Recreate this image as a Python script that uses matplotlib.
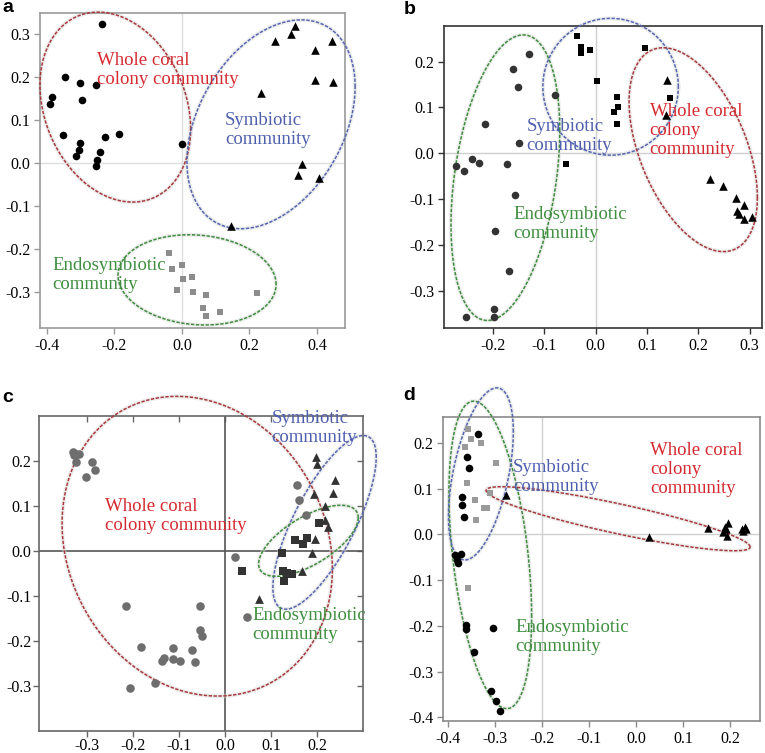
import numpy as np
import matplotlib
matplotlib.use("Agg")
import matplotlib.pyplot as plt

plt.rcParams['font.family'] = ['Liberation Serif', 'DejaVu Serif']
plt.rcParams['axes.unicode_minus'] = False

# ---------------- Panel a ----------------
a_circ_x = [-0.235, -0.345, -0.301, -0.254, -0.385, -0.391, -0.296, -0.352, -0.302, -0.306,
            -0.312, -0.229, -0.186, -0.242, -0.252, -0.254, 0.001]
a_circ_y = [0.323, 0.199, 0.186, 0.182, 0.153, 0.137, 0.147, 0.064, 0.046, 0.030,
            0.016, 0.060, 0.068, 0.025, 0.006, -0.006, 0.044]
a_tri_x = [0.335, 0.323, 0.275, 0.444, 0.394, 0.395, 0.448, 0.233, 0.356, 0.345, 0.406, 0.145]
a_tri_y = [0.319, 0.299, 0.283, 0.285, 0.264, 0.192, 0.188, 0.162, -0.002, -0.029, -0.036, -0.146]
a_sq_x = [-0.039, -0.028, 0.001, 0.004, 0.031, -0.013, 0.034, 0.070, 0.223, 0.062, 0.071, 0.113]
a_sq_y = [-0.209, -0.246, -0.237, -0.271, -0.266, -0.295, -0.300, -0.308, -0.302, -0.338, -0.357, -0.347]

# ---------------- Panel b ----------------
b_circ_x = [-0.272, -0.256, -0.241, -0.227, -0.216, -0.172, -0.161, -0.151, -0.129, -0.150,
            -0.157, -0.079, -0.196, -0.168, -0.198, -0.198, -0.253]
b_circ_y = [-0.027, -0.039, -0.013, -0.020, 0.065, -0.023, 0.183, 0.145, 0.217, 0.022,
            -0.090, 0.128, -0.169, -0.256, -0.339, -0.356, -0.357]
b_sq_x = [-0.036, -0.029, -0.029, -0.011, 0.003, 0.097, 0.041, 0.044, 0.036, 0.042, 0.145, -0.058]
b_sq_y = [0.256, 0.232, 0.218, 0.224, 0.158, 0.230, 0.123, 0.100, 0.091, 0.064, 0.120, -0.023]
b_tri_x = [0.139, 0.136, 0.223, 0.248, 0.273, 0.288, 0.276, 0.280, 0.288, 0.304]
b_tri_y = [0.160, 0.083, -0.055, -0.071, -0.097, -0.113, -0.126, -0.133, -0.143, -0.138]

# ---------------- Panel c ----------------
c_circ_x = [-0.329, -0.323, -0.328, -0.317, -0.323, -0.288, -0.281, -0.302, 0.157, 0.161,
            0.175, 0.022, 0.048, -0.215, -0.054, -0.054, -0.050, -0.182, -0.113, -0.071,
            -0.132, -0.137, -0.113, -0.098, -0.065, -0.206, -0.152]
c_circ_y = [0.220, 0.216, 0.212, 0.214, 0.197, 0.197, 0.180, 0.164, 0.147, 0.112,
            0.079, -0.014, -0.147, -0.123, -0.123, -0.177, -0.189, -0.214, -0.217, -0.220,
            -0.238, -0.246, -0.241, -0.245, -0.247, -0.306, -0.294]
c_sq_x = [0.205, 0.152, 0.169, 0.177, 0.124, 0.036, 0.126, 0.134, 0.145, 0.128]
c_sq_y = [0.062, 0.023, 0.016, 0.029, -0.006, -0.045, -0.046, -0.049, -0.052, -0.068]
c_tri_x = [0.197, 0.199, 0.239, 0.235, 0.193, 0.218, 0.218, 0.224, 0.195, 0.189, 0.167, 0.074]
c_tri_y = [0.208, 0.192, 0.157, 0.128, 0.127, 0.100, 0.069, 0.053, 0.027, -0.004, -0.044, -0.108]

# ---------------- Panel d ----------------
d_circ_x = [-0.337, -0.359, -0.355, -0.371, -0.370, -0.367, -0.385, -0.372, -0.380, -0.379,
            -0.362, -0.362, -0.304, -0.344, -0.309, -0.298, -0.289]
d_circ_y = [0.219, 0.168, 0.144, 0.082, 0.065, 0.038, -0.045, -0.043, -0.056, -0.063,
            -0.198, -0.207, -0.204, -0.258, -0.342, -0.365, -0.386]
d_sq_x = [-0.358, -0.352, -0.330, -0.364, -0.298, -0.360, -0.343, -0.323, -0.318, -0.341, -0.311, -0.357]
d_sq_y = [0.230, 0.208, 0.199, 0.190, 0.156, 0.113, 0.075, 0.057, 0.057, 0.031, 0.091, -0.117]
d_tri_x = [-0.277, 0.027, 0.154, 0.196, 0.191, 0.186, 0.193, 0.225, 0.232, 0.235, 0.227, 0.189]
d_tri_y = [0.085, -0.005, 0.013, 0.024, 0.011, 0.004, -0.003, 0.012, 0.015, 0.011, 0.008, 0.017]

# Ellipses: (cx, cy, rx, ry, rho)
a_ell = {'red': (-0.197, 0.130, 0.223, 0.221, -0.23),
         'blue': (0.264, 0.090, 0.249, 0.243, 0.36),
         'green': (0.045, -0.272, 0.234, 0.105, -0.10)}
b_ell = {'green': (-0.176, -0.053, 0.106, 0.311, 0.33),
         'blue': (0.029, 0.145, 0.132, 0.149, 0.0),
         'red': (0.190, 0.008, 0.125, 0.222, -0.47)}
c_ell = {'red': (-0.060, 0.010, 0.293, 0.333, -0.15),
         'blue': (0.216, 0.063, 0.112, 0.193, 0.75),
         'green': (0.181, 0.022, 0.108, 0.079, 0.65)}
d_ell = {'green': (-0.310, -0.045, 0.088, 0.336, -0.40),
         'blue': (-0.330, 0.132, 0.069, 0.188, 0.49),
         'red': (-0.038, 0.034, 0.281, 0.070, -0.88)}

lbl_whole2 = "Whole coral\ncolony community"
lbl_whole3 = "Whole coral\ncolony\ncommunity"
lbl_sym = "Symbiotic\ncommunity"
lbl_endo = "Endosymbiotic\ncommunity"

ELL_COL = {'red': '#a8383c', 'blue': '#5666b0', 'green': '#3d8c3d'}
TXT_COL = {'red': '#d42a30', 'blue': '#4f5fae', 'green': '#3f8f3f'}
SERIF = ['Liberation Serif', 'DejaVu Serif']

fig = plt.figure(figsize=(7.65, 7.53), dpi=100)
W, H = 765, 753


def add_ax(l, r, t, b):
    return fig.add_axes([l / W, 1 - b / H, (r - l) / W, (b - t) / H])


def ellipse(ax, p, col):
    cx, cy, rx, ry, rho = p
    t = np.linspace(0, 2 * np.pi, 400)
    x = cx + rx * np.cos(t)
    y = cy + ry * (rho * np.cos(t) + np.sqrt(1 - rho ** 2) * np.sin(t))
    ax.plot(x, y, color='#dddddd', lw=3.0, alpha=0.5, clip_on=False, zorder=2)
    ax.plot(x, y, color=ELL_COL[col], lw=1.1, ls=(0, (2.2, 1.0)), clip_on=False, zorder=3)


def style(ax, xlim, ylim, xt, yt, frame, zero_col, zero_lw=1.0, vline=0.0, pad=3):
    ax.set_xlim(*xlim)
    ax.set_ylim(*ylim)
    ax.set_xticks(xt)
    ax.set_yticks(yt)
    ax.set_xticklabels([f"{v:.1f}" for v in xt], fontfamily=SERIF)
    ax.set_yticklabels([f"{v:.1f}" for v in yt], fontfamily=SERIF)
    for s in ax.spines.values():
        s.set_color(frame)
        s.set_linewidth(1.2)
    ax.tick_params(labelsize=11.5, length=4, width=1, color=frame, pad=pad)
    ax.axhline(0, color=zero_col, lw=zero_lw, zorder=1)
    ax.axvline(vline, color=zero_col, lw=zero_lw, zorder=1)


def pts(ax, x, y, marker, col, s):
    ax.scatter(x, y, marker=marker, c=col, s=s, linewidths=0, zorder=4)


def txt(ax, x, y, s, col):
    ax.text(x, y, s, color=TXT_COL[col], fontsize=13.5, ha='left', va='center',
            linespacing=1.15, zorder=5, fontfamily=SERIF)


def label(x, y, s):
    fig.text(x / W, 1 - y / H, s, fontsize=14, fontweight='bold',
             fontfamily=['Liberation Sans', 'DejaVu Sans'], va='center')


# ---------- a ----------
ax = add_ax(40, 345, 13, 328)
style(ax, (-0.42, 0.483), (-0.384, 0.349), [-0.4, -0.2, 0.0, 0.2, 0.4],
      [-0.3, -0.2, -0.1, 0.0, 0.1, 0.2, 0.3], '#9a9a9a', '#dedede')
pts(ax, a_circ_x, a_circ_y, 'o', 'black', 30)
pts(ax, a_tri_x, a_tri_y, '^', 'black', 38)
pts(ax, a_sq_x, a_sq_y, 's', '#8c8c8c', 24)
for k, p in a_ell.items():
    ellipse(ax, p, k)
txt(ax, -0.252, 0.217, lbl_whole2, 'red')
txt(ax, 0.127, 0.076, lbl_sym, 'blue')
txt(ax, -0.383, -0.260, lbl_endo, 'green')
label(2, 8, 'a')

# ---------- b ----------
ax = add_ax(444.3, 762, 25.7, 328.3)
style(ax, (-0.295, 0.324), (-0.381, 0.278), [-0.2, -0.1, 0.0, 0.1, 0.2, 0.3],
      [-0.3, -0.2, -0.1, 0.0, 0.1, 0.2], '#333333', '#cfcfcf')
pts(ax, b_circ_x, b_circ_y, 'o', '#333333', 30)
pts(ax, b_sq_x, b_sq_y, 's', 'black', 24)
pts(ax, b_tri_x, b_tri_y, '^', 'black', 38)
for k, p in b_ell.items():
    ellipse(ax, p, k)
txt(ax, -0.135, 0.038, lbl_sym, 'blue')
txt(ax, 0.105, 0.049, lbl_whole3, 'red')
txt(ax, -0.161, -0.153, lbl_endo, 'green')
label(404, 10, 'b')

# ---------- c ----------
ax = add_ax(39, 363.3, 415.7, 730.7)
c_xt = [-0.3, -0.2, -0.1, 0.0, 0.1, 0.2]
c_yt = [-0.3, -0.2, -0.1, 0.0, 0.1, 0.2]
style(ax, (-0.403, 0.300), (-0.400, 0.300), c_xt, c_yt, '#666666', '#555555',
      zero_lw=1.2, pad=1.5)
secx = ax.secondary_xaxis('top')
secx.set_xticks(c_xt)
secx.tick_params(direction='in', length=4, width=1, color='#666666', labeltop=False)
secy = ax.secondary_yaxis('right')
secy.set_yticks(c_yt)
secy.tick_params(direction='in', length=4, width=1, color='#666666', labelright=False)
for s in list(secx.spines.values()) + list(secy.spines.values()):
    s.set_visible(False)
pts(ax, c_circ_x, c_circ_y, 'o', '#6e6e6e', 38)
pts(ax, c_sq_x, c_sq_y, 's', '#333333', 32)
pts(ax, c_tri_x, c_tri_y, '^', '#333333', 40)
for k, p in c_ell.items():
    ellipse(ax, p, k)
txt(ax, -0.260, 0.077, lbl_whole2, 'red')
txt(ax, 0.101, 0.273, lbl_sym, 'blue')
txt(ax, 0.059, -0.166, lbl_endo, 'green')
label(2, 397, 'c')

# ---------- d ----------
ax = add_ax(443.3, 760, 416.7, 721)
style(ax, (-0.410, 0.264), (-0.408, 0.257), [-0.4, -0.3, -0.2, -0.1, 0.0, 0.1, 0.2],
      [-0.4, -0.3, -0.2, -0.1, 0.0, 0.1, 0.2], '#8a8a8a', '#d0d0d0', vline=-0.2)
pts(ax, d_circ_x, d_circ_y, 'o', 'black', 30)
pts(ax, d_sq_x, d_sq_y, 's', '#9a9a9a', 22)
pts(ax, d_tri_x, d_tri_y, '^', 'black', 36)
for k, p in d_ell.items():
    ellipse(ax, p, k)
txt(ax, -0.262, 0.126, lbl_sym, 'blue')
txt(ax, 0.030, 0.142, lbl_whole3, 'red')
txt(ax, -0.257, -0.225, lbl_endo, 'green')
label(403, 396, 'd')

fig.savefig('out.png', dpi=100)
